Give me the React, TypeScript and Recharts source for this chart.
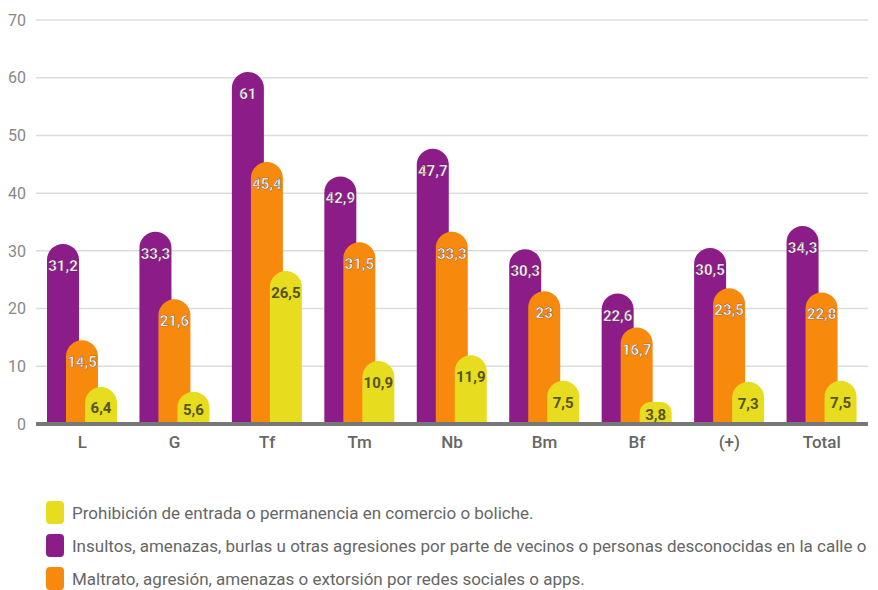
import { BarChart, Bar, XAxis, YAxis, CartesianGrid, LabelList } from 'recharts';

const categories = ['L', 'G', 'Tf', 'Tm', 'Nb', 'Bm', 'Bf', '(+)', 'Total'];
const insultos = [31.2, 33.3, 61, 42.9, 47.7, 30.3, 22.6, 30.5, 34.3];
const maltrato = [14.5, 21.6, 45.4, 31.5, 33.3, 23, 16.7, 23.5, 22.8];
const prohibicion = [6.4, 5.6, 26.5, 10.9, 11.9, 7.5, 3.8, 7.3, 7.5];
const yTicks = [0, 10, 20, 30, 40, 50, 60, 70];

const PURPLE = '#8b1c88';
const ORANGE = '#f7890d';
const YELLOW = '#e8dc1e';

const legendItems = [
  { color: YELLOW, text: 'Prohibición de entrada o permanencia en comercio o boliche.' },
  { color: PURPLE, text: 'Insultos, amenazas, burlas u otras agresiones por parte de vecinos o personas desconocidas en la calle o' },
  { color: ORANGE, text: 'Maltrato, agresión, amenazas o extorsión por redes sociales o apps.' },
];

const data = categories.map((c, i) => ({
  cat: c,
  insultos: insultos[i],
  maltrato: maltrato[i],
  prohibicion: prohibicion[i],
}));

const fmt = (v: number) => String(v).replace('.', ',');

function makeLabel(fill: string, outline: boolean) {
  return (props: any) => {
    const { x, y, width, height, value } = props;
    const cy = y + Math.min(22, height / 2 + 2);
    return (
      <text
        x={x + width / 2}
        y={cy}
        textAnchor="middle"
        dominantBaseline="central"
        fill={fill}
        stroke={outline ? 'rgba(60,20,40,0.55)' : 'none'}
        strokeWidth={outline ? 0.6 : 0}
        fontSize={15}
        fontWeight={700}
        fontFamily="Roboto, sans-serif"
      >
        {fmt(value)}
      </text>
    );
  };
}

export default function App() {
  return (
    <div style={{ position: 'absolute', left: 0, top: 0, width: 878, height: 590, background: '#fff', fontFamily: 'Roboto, sans-serif' }}>
      <BarChart
        width={878}
        height={454}
        data={data}
        margin={{ top: 20, right: 10, bottom: 0, left: 0 }}
        barSize={32}
        barGap={-13}
      >
        <CartesianGrid vertical={false} stroke="#dcdcdc" strokeWidth={1.5} />
        <XAxis
          dataKey="cat"
          axisLine={{ stroke: '#777', strokeWidth: 4 }}
          tickLine={false}
          tick={{ fill: '#666', fontSize: 17, fontWeight: 500 }}
          tickMargin={6}
        />
        <YAxis
          domain={[0, 70]}
          ticks={yTicks}
          axisLine={false}
          tickLine={false}
          width={36}
          tick={{ fill: '#888', fontSize: 16, dx: -2 }}
        />
        <Bar dataKey="insultos" fill={PURPLE} radius={[16, 16, 0, 0]} isAnimationActive={false}>
          <LabelList dataKey="insultos" content={makeLabel('#fff', true)} />
        </Bar>
        <Bar dataKey="maltrato" fill={ORANGE} radius={[16, 16, 0, 0]} isAnimationActive={false}>
          <LabelList dataKey="maltrato" content={makeLabel('#fff', true)} />
        </Bar>
        <Bar dataKey="prohibicion" fill={YELLOW} radius={[16, 16, 0, 0]} isAnimationActive={false}>
          <LabelList dataKey="prohibicion" content={makeLabel('#55531f', false)} />
        </Bar>
      </BarChart>
      <div style={{ position: 'absolute', left: 46, top: 496 }}>
        {legendItems.map((it) => (
          <div key={it.text} style={{ display: 'flex', alignItems: 'center', height: 33 }}>
            <div style={{ width: 18, height: 23, borderRadius: 4, background: it.color, marginRight: 8 }} />
            <span style={{ fontSize: 17, color: '#666', whiteSpace: 'nowrap' }}>{it.text}</span>
          </div>
        ))}
      </div>
    </div>
  );
}
